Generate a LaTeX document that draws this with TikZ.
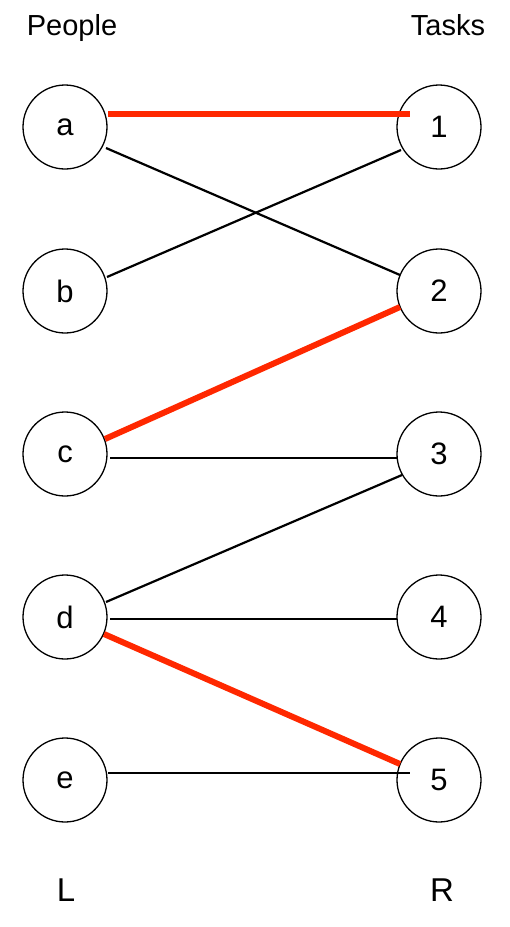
\documentclass[tikz,border=0pt]{standalone}
\usepackage{fontspec}
\setmainfont{Liberation Sans}
\usetikzlibrary{calc}
\definecolor{matchred}{RGB}{255,40,0}
\tikzset{
  vert/.style={circle, draw=black, line width=1.3pt, minimum size=84pt, inner sep=0pt, font=\fontsize{31}{31}\selectfont},
  head/.style={anchor=base, font=\fontsize{29}{29}\selectfont},
  side/.style={anchor=base, font=\fontsize{33}{33}\selectfont},
  edge/.style={black, line width=2.2pt},
  match/.style={matchred, line width=6pt},
}
\begin{document}
\begin{tikzpicture}[x=1pt,y=-1pt]
\useasboundingbox (0,0) rectangle (510,927);
\node[head] (people) at (72,35) {People};
\node[head] (tasks) at (448,35) {Tasks};
\node[side] (L) at (66,901) {L};
\node[side] (R) at (442,901) {R};

\node[vert] (a) at (65,127) {a};
\node[vert] (b) at (65,291) {b};
\node[vert] (c) at (65,454) {c};
\node[vert] (d) at (65,617) {d};
\node[vert] (e) at (65,780) {e};
\node[vert] (t1) at (439,127) {1};
\node[vert] (t2) at (439,291) {2};
\node[vert] (t3) at (439,454) {3};
\node[vert] (t4) at (439,617) {4};
\node[vert] (t5) at (439,780) {5};

\draw[edge] ($(a)+(41,21)$) -- ($(t2)+(-39,-16)$);
\draw[edge] ($(b)+(42,-14)$) -- ($(t1)+(-38,23)$);
\draw[edge] ($(c)+(45,4)$) -- ($(t3)+(-42,4)$);
\draw[edge] ($(d)+(41,-15)$) -- ($(t3)+(-37,21)$);
\draw[edge] ($(d)+(45,2)$) -- ($(t4)+(-42,2)$);
\draw[edge, line width=2.8pt] ($(e)+(43,-7)$) -- ($(t5)+(-29,-7)$);

\draw[match] ($(a)+(43,-13)$) -- ($(t1)+(-29,-13)$);
\draw[match] ($(c)+(40,-15)$) -- ($(t2)+(-39,16)$);
\draw[match] ($(d)+(39,17)$) -- ($(t5)+(-39,-16)$);
\end{tikzpicture}
\end{document}
